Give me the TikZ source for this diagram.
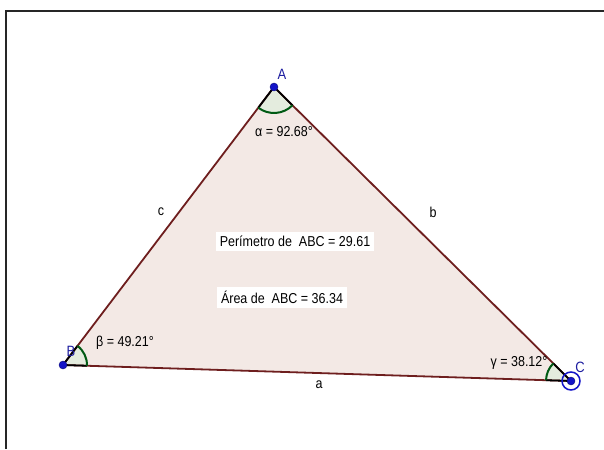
\documentclass[tikz,border=0pt]{standalone}
\usepackage{fontspec}
\setmainfont{Liberation Sans}
\usepackage{xcolor}
\usepackage{graphicx}
\usetikzlibrary{angles,calc}

\definecolor{edgecol}{RGB}{110,30,30}
\definecolor{trifill}{RGB}{243,233,229}
\definecolor{sectfill}{RGB}{228,236,222}
\definecolor{arccol}{RGB}{0,90,20}
\definecolor{ptcol}{RGB}{20,20,200}
\definecolor{ptlabel}{RGB}{30,30,160}

% text in the screenshot is a little stretched upright
\newcommand{\tall}[1]{\scalebox{1}[1.15]{#1}}

\begin{document}
\begin{tikzpicture}[
    x=1pt, y=-1pt,
    edge/.style={draw=edgecol, line width=1.8pt},
    pt/.style={circle, fill=ptcol, draw=ptcol!60!black, line width=0.4pt, inner sep=0pt, minimum size=8pt},
    ptname/.style={text=ptlabel, font=\fontsize{13}{15}\selectfont, inner sep=0pt},
    sidename/.style={font=\fontsize{12.5}{14}\selectfont, inner sep=0pt},
    anglename/.style={font=\fontsize{12.5}{14}\selectfont, inner sep=0pt},
    infobox/.style={fill=white, font=\fontsize{12.5}{14}\selectfont, inner xsep=4pt, inner ysep=4pt}
]
\useasboundingbox (0,0) rectangle (604,449);

% Frame
\draw[line width=2pt, black!85] (6,449) -- (6,11) -- (604,11);

% Vertices
\coordinate (A) at (274,87);
\coordinate (B) at (63,365);
\coordinate (C) at (571,381);

% Triangle
\fill[trifill] (A) -- (B) -- (C) -- cycle;
\pic[fill=sectfill, angle radius=26pt] {angle = B--A--C};
\pic[fill=sectfill, angle radius=24pt] {angle = C--B--A};
\pic[fill=sectfill, angle radius=25pt] {angle = A--C--B};

% Edges
\draw[edge] (A) -- (B);
\draw[edge] (B) -- (C);
\draw[edge] (C) -- (A);
\draw[black, line width=1.8pt] (A) -- ($(A)!26pt!(B)$) (A) -- ($(A)!26pt!(C)$);
\draw[black, line width=1.8pt] (B) -- ($(B)!24pt!(A)$) (B) -- ($(B)!24pt!(C)$);
\draw[black, line width=1.8pt] (C) -- ($(C)!25pt!(A)$) (C) -- ($(C)!25pt!(B)$);

% Angle arcs
\pic[draw=arccol, line width=2pt, angle radius=26pt] {angle = B--A--C};
\pic[draw=arccol, line width=2pt, angle radius=24pt] {angle = C--B--A};
\pic[draw=arccol, line width=2pt, angle radius=25pt] {angle = A--C--B};

% Points
\node[pt] (ptA) at (A) {};
\node[pt] (ptB) at (B) {};
\node[pt] (ptC) at (C) {};
\draw[ptcol, line width=1.5pt] (C) circle (9pt);

% Labels
\node[ptname] (labA) at (282,74) {\tall{A}};
\node[ptname] (labB) at (71,351) {\tall{B}};
\node[ptname] (labC) at (580,367) {\tall{C}};
\node[sidename] (labc) at (161,212) {\tall{c}};
\node[sidename] (labb) at (433,212) {\tall{b}};
\node[sidename] (laba) at (319,385) {\tall{a}};
\node[anglename] (alpha) at (284,132) {\tall{α = 92.68°}};
\node[anglename] (beta) at (125,343) {\tall{β = 49.21°}};
\node[anglename] (gamma) at (519,363) {\tall{γ = 38.12°}};
\node[infobox] (perim) at (295,241.5) {\tall{Perímetro de\ \ ABC = 29.61}};
\node[infobox] (area) at (282,297.5) {\tall{Área de\ \ ABC = 36.34}};

\end{tikzpicture}
\end{document}
